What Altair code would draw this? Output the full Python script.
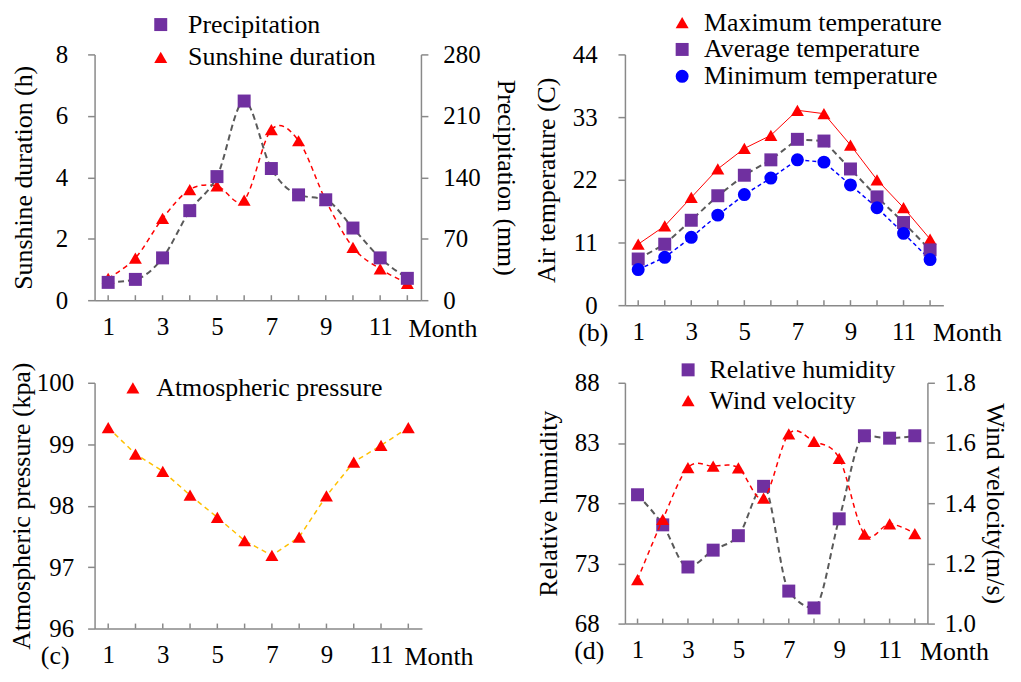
import altair as alt
import pandas as pd

# ---------------- data ----------------
months = list(range(1, 13))
x_labels = [1, 3, 5, 7, 9, 11]

sunshine = [0.71, 1.37, 2.66, 3.60, 3.72, 3.26, 5.55, 5.19, 3.25, 1.72, 1.02, 0.55]
precipitation = [20.3, 23.7, 48.2, 102.0, 140.8, 226.9, 150.0, 120.0, 114.4, 82.2, 48.2, 24.9]

t_max = [10.7, 13.9, 18.9, 23.9, 27.5, 29.8, 34.2, 33.6, 28.1, 22.0, 17.1, 11.6]
t_avg = [8.1, 10.7, 14.9, 19.2, 22.8, 25.5, 29.1, 28.8, 23.9, 19.0, 14.5, 9.7]
t_min = [6.25, 8.4, 11.9, 15.8, 19.4, 22.3, 25.5, 25.1, 21.1, 17.1, 12.6, 8.0]

pressure = [99.27, 98.84, 98.56, 98.17, 97.81, 97.43, 97.19, 97.49, 98.16, 98.71, 98.98, 99.27]

humidity = [78.7, 76.2, 72.7, 74.1, 75.3, 79.4, 70.7, 69.3, 76.7, 83.6, 83.4, 83.6]
wind = [1.146, 1.346, 1.518, 1.523, 1.517, 1.417, 1.630, 1.605, 1.549, 1.297, 1.331, 1.299]

# ---------------- styling ----------------
FONT = "Liberation Serif"
AX = "#898989"
PURPLE = "#7030A0"
RED = "#FF0000"
BLUE = "#0000FF"
GRAY = "#595959"
ORANGE = "#FFC000"
SYM = 170
LAB_Y = 36

df_m = pd.DataFrame({"month": months})


def x_enc(title_x):
    return alt.X(
        "month:Q",
        scale=alt.Scale(domain=[0.5, 12.5], nice=False, zero=False),
        axis=alt.Axis(values=x_labels, title="Month", titleX=title_x, titleY=LAB_Y,
                      titleAlign="left", titleBaseline="alphabetic", ticks=False,
                      labelPadding=14, domainColor=AX, domainWidth=1.5),
    )


def y_axis(orient, values, title, label_pad, title_pad, fmt=None):
    kw = dict(orient=orient, values=values, title=title, tickSize=7,
              labelPadding=label_pad, titlePadding=title_pad, domainColor=AX,
              tickColor=AX, domainWidth=1.5, tickWidth=1.5)
    if fmt:
        kw["format"] = fmt
    return alt.Axis(**kw)


def legend(lx, ly, row_pad, label_off):
    return alt.Legend(title=None, orient="none", legendX=lx, legendY=ly,
                      direction="vertical", labelFont=FONT, labelFontSize=26,
                      symbolSize=SYM, symbolStrokeWidth=0, rowPadding=row_pad,
                      labelOffset=label_off, padding=0, symbolOpacity=1,
                      labelLimit=400)


def color_shape(field, domain, colors, shapes, leg):
    return dict(
        color=alt.Color(f"{field}:N", scale=alt.Scale(domain=domain, range=colors), legend=leg),
        shape=alt.Shape(f"{field}:N", scale=alt.Scale(domain=domain, range=shapes), legend=leg),
    )


def ticks(h, X):
    return alt.Chart(df_m).mark_rule(color=AX, strokeWidth=1.5).encode(
        x=X, y=alt.value(h - 5), y2=alt.value(h))


def panel_label(txt, h, dx):
    return alt.Chart(pd.DataFrame({"lab": [txt]})).mark_text(
        align="left", baseline="alphabetic", fontSize=26, font=FONT, color="black"
    ).encode(x=alt.value(dx), y=alt.value(h + LAB_Y), text="lab:N")


def line(df, X, y, color, dash, width, interp):
    m = dict(color=color, strokeWidth=width, interpolate=interp)
    if dash:
        m["strokeDash"] = dash
    return alt.Chart(df).mark_line(**m).encode(x=X, y=y)


def points(df, X, y, cs):
    return alt.Chart(df).mark_point(filled=True, size=SYM, opacity=1).encode(x=X, y=y, **cs)


# ---------------- panel (a) ----------------
WA, HA = 328, 247
Xa = x_enc(315)
dfa = pd.DataFrame({"month": months, "sun": sunshine, "precip": precipitation})
dom_a = ["Precipitation", "Sunshine duration"]
leg_a = legend(53.5, -43, 7, 14.5)
cs_a = color_shape("sa", dom_a, [PURPLE, RED], ["square", "triangle-up"], leg_a)
y_sun = alt.Y("sun:Q", scale=alt.Scale(domain=[0, 8], nice=False),
              axis=y_axis("left", [0, 2, 4, 6, 8], "Sunshine duration (h)", 20, 19))
y_pre = alt.Y("precip:Q", scale=alt.Scale(domain=[0, 280], nice=False),
              axis=y_axis("right", [0, 70, 140, 210, 280], "Precipitation (mm)", 15, 12))
sub_sun = alt.layer(
    ticks(HA, Xa),
    line(dfa, Xa, y_sun, RED, [5, 4], 1.5, "cardinal"),
    points(dfa.assign(sa="Sunshine duration"), Xa, y_sun, cs_a),
)
sub_pre = alt.layer(
    line(dfa, Xa, y_pre, GRAY, [6, 4], 2, "monotone"),
    points(dfa.assign(sa="Precipitation"), Xa, y_pre, cs_a),
)
pa = alt.layer(sub_sun, sub_pre).resolve_scale(y="independent").properties(width=WA, height=HA)

# ---------------- panel (b) ----------------
WB, HB = 320, 252
Xb = x_enc(309)
dfb = pd.DataFrame({"month": months, "tmax": t_max, "tavg": t_avg, "tmin": t_min})
dom_b = ["Maximum temperature", "Average temperature", "Minimum temperature"]
leg_b = legend(44.5, -45, 1, 9)
cs_b = color_shape("sb", dom_b, [RED, PURPLE, BLUE], ["triangle-up", "square", "circle"], leg_b)
yb_axis = y_axis("left", [0, 11, 22, 33, 44], "Air temperature (C)", 21, 13)
yb_scale = alt.Scale(domain=[0, 44], nice=False)
y_tmax = alt.Y("tmax:Q", scale=yb_scale, axis=yb_axis)
y_tavg = alt.Y("tavg:Q", scale=yb_scale, axis=yb_axis)
y_tmin = alt.Y("tmin:Q", scale=yb_scale, axis=yb_axis)
pb = alt.layer(
    ticks(HB, Xb),
    line(dfb, Xb, y_tmax, RED, None, 1, "linear"),
    line(dfb, Xb, y_tavg, GRAY, [6, 4], 2, "linear"),
    line(dfb, Xb, y_tmin, BLUE, [4, 3], 1.5, "linear"),
    points(dfb.assign(sb="Maximum temperature"), Xb, y_tmax, cs_b),
    points(dfb.assign(sb="Average temperature"), Xb, y_tavg, cs_b),
    points(dfb.assign(sb="Minimum temperature"), Xb, y_tmin, cs_b),
    panel_label("(b)", HB, -47),
).properties(width=WB, height=HB)

# ---------------- panel (c) ----------------
WC, HC = 329, 247
Xc = x_enc(311)
dfc = pd.DataFrame({"month": months, "pres": pressure, "sc": "Atmospheric pressure"})
leg_c = legend(25.5, -8, 4, 10.5)
cs_c = color_shape("sc", ["Atmospheric pressure"], [RED], ["triangle-up"], leg_c)
y_pres = alt.Y("pres:Q", scale=alt.Scale(domain=[96, 100], nice=False, zero=False),
               axis=y_axis("left", [96, 97, 98, 99, 100], "Atmospheric pressure (kpa)", 14, 2))
pc = alt.layer(
    ticks(HC, Xc),
    line(dfc, Xc, y_pres, ORANGE, [5, 4], 1.5, "linear"),
    points(dfc, Xc, y_pres, cs_c),
    panel_label("(c)", HC, -54),
).properties(width=WC, height=HC)

# ---------------- panel (d) ----------------
WD, HD = 304, 242
Xd = x_enc(296)
dfd = pd.DataFrame({"month": months, "hum": humidity, "wind": wind})
dom_d = ["Relative humidity", "Wind velocity"]
leg_d = legend(50.5, -26, 5, 8.5)
cs_d = color_shape("sd", dom_d, [PURPLE, RED], ["square", "triangle-up"], leg_d)
y_hum = alt.Y("hum:Q", scale=alt.Scale(domain=[68, 88], nice=False, zero=False),
              axis=y_axis("left", [68, 73, 78, 83, 88], "Relative humidity", 19, 13))
y_wind = alt.Y("wind:Q", scale=alt.Scale(domain=[1.0, 1.8], nice=False, zero=False),
               axis=y_axis("right", [1.0, 1.2, 1.4, 1.6, 1.8], "Wind velocity(m/s)", 10, 6, ".1f"))
sub_hum = alt.layer(
    ticks(HD, Xd),
    line(dfd, Xd, y_hum, GRAY, [6, 4], 2, "monotone"),
    points(dfd.assign(sd="Relative humidity"), Xd, y_hum, cs_d),
    panel_label("(d)", HD, -51),
)
sub_wind = alt.layer(
    line(dfd, Xd, y_wind, RED, [5, 4], 1.5, "cardinal"),
    points(dfd.assign(sd="Wind velocity"), Xd, y_wind, cs_d),
)
pd_ = alt.layer(sub_hum, sub_wind).resolve_scale(y="independent").properties(width=WD, height=HD)

chart = alt.concat(
    pa, pb, pc, pd_, columns=2,
    spacing={"row": 78, "column": 204},
    bounds="flush", align="each",
).resolve_scale(
    x="independent", y="independent", color="independent", shape="independent"
).properties(
    padding={"top": 0, "left": 0, "right": 5, "bottom": 0}
).configure(
    font=FONT
).configure_axis(
    labelFont=FONT, titleFont=FONT, labelFontSize=25, titleFontSize=26,
    titleFontWeight="normal", labelColor="black", titleColor="black", grid=False,
).configure_view(stroke=None)

chart.save("out.html", embed_options={"renderer": "svg", "actions": False})
